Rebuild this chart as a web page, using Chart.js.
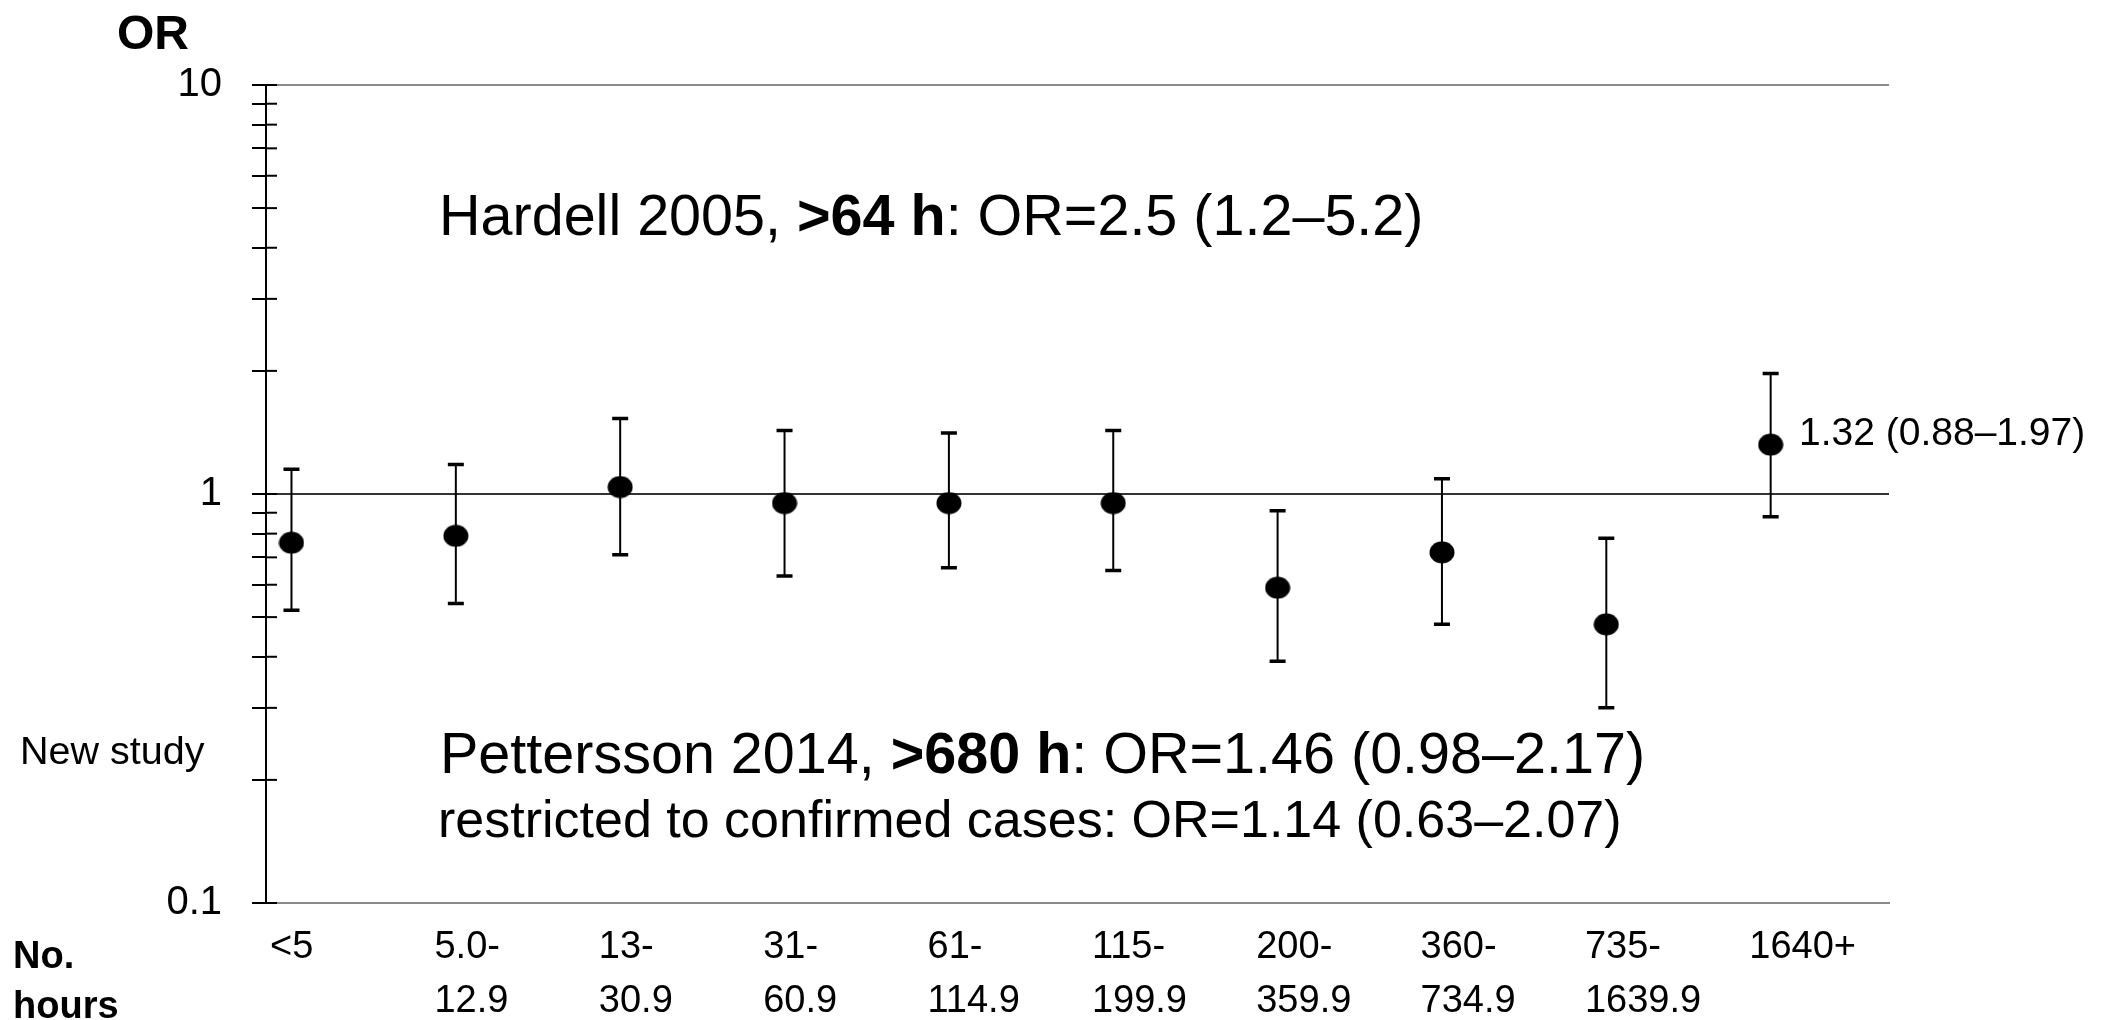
<!DOCTYPE html>
<html lang="en">
<head>
  <meta charset="UTF-8" />
  <title>OR by number of hours</title>
  <script src="https://cdn.jsdelivr.net/npm/chart.js"></script>
  <style>
    body { margin: 0; background: #fff; }
    #wrap { width: 2109px; height: 1020px; }
  </style>
</head>
<body>
  <div id="wrap"><canvas id="orChart"></canvas></div>

  <script>
    // categories (No. hours)
    const hourGroups = [
      ["<5"], ["5.0-", "12.9"], ["13-", "30.9"], ["31-", "60.9"], ["61-", "114.9"],
      ["115-", "199.9"], ["200-", "359.9"], ["360-", "734.9"], ["735-", "1639.9"], ["1640+"]
    ];
    // odds ratios and 95% CI
    const oddsRatio = [0.76, 0.79, 1.04, 0.95, 0.95, 0.95, 0.59, 0.72, 0.48, 1.32];
    const ciLower   = [0.52, 0.54, 0.71, 0.63, 0.66, 0.65, 0.39, 0.48, 0.30, 0.88];
    const ciUpper   = [1.15, 1.18, 1.53, 1.43, 1.41, 1.43, 0.91, 1.09, 0.78, 1.97];
    // y axis: decades and the minor steps inside each decade
    const decades = [0.1, 1];
    const minorSteps = [1, 2, 3, 4, 5, 6, 7, 8, 9];
    const yTickValues = [0.1, 1, 10];
    const yTickLabels = ["0.1", "1", "10"];

    const FONT = '"Liberation Sans", Arial, Helvetica, sans-serif';

    // filled ellipse used as the point marker (slightly wider than tall, like the original)
    const dot = document.createElement("canvas");
    dot.width = 26; dot.height = 23;
    (function () {
      const c = dot.getContext("2d");
      c.fillStyle = "#000";
      c.beginPath();
      c.ellipse(13, 11.5, 12.5, 11, 0, 0, Math.PI * 2);
      c.fill();
    })();

    function isLabelled(v) {
      return yTickValues.findIndex(t => Math.abs(t - v) < 1e-9);
    }

    // error bars with caps
    const errorBars = {
      id: "errorBars",
      beforeDatasetsDraw(chart) {
        const { ctx, scales: { x, y } } = chart;
        ctx.save();
        ctx.strokeStyle = "#000";
        oddsRatio.forEach((v, i) => {
          const px = x.getPixelForValue(i);
          const top = y.getPixelForValue(ciUpper[i]);
          const bot = y.getPixelForValue(ciLower[i]);
          ctx.lineWidth = 2;
          ctx.beginPath();
          ctx.moveTo(px, top); ctx.lineTo(px, bot);
          ctx.stroke();
          ctx.lineWidth = 3.5;
          ctx.beginPath();
          ctx.moveTo(px - 8, top); ctx.lineTo(px + 8, top);
          ctx.moveTo(px - 8, bot); ctx.lineTo(px + 8, bot);
          ctx.stroke();
        });
        ctx.restore();
      }
    };

    // y ticks cross the axis: draw the inner half
    const innerTicks = {
      id: "innerTicks",
      afterDraw(chart) {
        const { ctx, chartArea, scales: { y } } = chart;
        ctx.save();
        ctx.strokeStyle = "#000";
        ctx.lineWidth = 2;
        y.ticks.forEach(t => {
          const py = y.getPixelForValue(t.value);
          ctx.beginPath();
          ctx.moveTo(chartArea.left, py);
          ctx.lineTo(chartArea.left + 11, py);
          ctx.stroke();
        });
        ctx.restore();
      }
    };

    function richText(ctx, parts, x, y, size) {
      let cx = x;
      parts.forEach(([txt, bold]) => {
        ctx.font = (bold ? "bold " : "") + size + "px " + FONT;
        ctx.fillText(txt, cx, y);
        cx += ctx.measureText(txt).width;
      });
    }

    // free text on the figure
    const notes = {
      id: "notes",
      afterDraw(chart) {
        const ctx = chart.ctx;
        ctx.save();
        ctx.fillStyle = "#000";
        ctx.textBaseline = "alphabetic";
        ctx.textAlign = "left";
        richText(ctx, [["OR", true]], 117, 49, 48);
        richText(ctx, [["Hardell 2005, ", false], [">64 h", true], [": OR=2.5 (1.2\u20135.2)", false]], 439, 235, 57.5);
        richText(ctx, [["Pettersson 2014, ", false], [">680 h", true], [": OR=1.46 (0.98\u20132.17)", false]], 440, 773, 57.5);
        richText(ctx, [["restricted to confirmed cases: OR=1.14 (0.63\u20132.07)", false]], 438, 837, 52);
        richText(ctx, [["1.32 (0.88\u20131.97)", false]], 1799, 445, 39);
        richText(ctx, [["New study", false]], 20, 764, 39.5);
        richText(ctx, [["No.", true]], 13, 968, 38);
        richText(ctx, [["hours", true]], 13, 1018, 38);
        ctx.restore();
      }
    };

    new Chart(document.getElementById("orChart"), {
      type: "scatter",
      data: {
        datasets: [{
          data: oddsRatio.map((v, i) => ({ x: i, y: v })),
          pointStyle: dot,
          pointRadius: 12,
          showLine: false
        }]
      },
      options: {
        responsive: true,
        maintainAspectRatio: false,
        animation: false,
        events: [],
        layout: { padding: { top: 85, right: 220, bottom: 0, left: 0 } },
        plugins: { legend: { display: false }, tooltip: { enabled: false } },
        scales: {
          x: {
            type: "linear",
            min: -0.155,
            max: 9.72,
            afterBuildTicks(scale) {
              scale.ticks = hourGroups.map((g, i) => ({ value: i - 0.13 }));
            },
            afterFit(scale) { scale.height = 117; },
            grid: { display: false, drawTicks: false },
            border: { display: true, color: "#8a8a8a", width: 2 },
            ticks: {
              autoSkip: false,
              maxRotation: 0,
              align: "start",
              padding: 18,
              color: "#000",
              font: { family: FONT, size: 38, lineHeight: 1.42 },
              callback: (v, i) => hourGroups[i]
            }
          },
          y: {
            type: "logarithmic",
            min: 0.1,
            max: 10,
            afterBuildTicks(scale) {
              const t = [];
              decades.forEach(d => minorSteps.forEach(s => t.push({ value: +(d * s).toPrecision(6) })));
              t.push({ value: 10 });
              scale.ticks = t;
            },
            afterFit(scale) { scale.width = 266; },
            border: { display: true, color: "#000", width: 2 },
            grid: {
              lineWidth: 2,
              drawTicks: true,
              tickLength: 14,
              tickWidth: 2,
              tickColor: "#000",
              color: ctx => {
                const v = ctx.tick ? ctx.tick.value : null;
                if (v === null || isLabelled(v) < 0) return "rgba(0,0,0,0)";
                return Math.abs(v - 1) < 1e-9 ? "#333" : "#8a8a8a";
              }
            },
            ticks: {
              autoSkip: false,
              padding: 30,
              color: "#000",
              font: { family: FONT, size: 40 },
              callback: v => {
                const k = isLabelled(v);
                return k < 0 ? "" : yTickLabels[k];
              }
            }
          }
        }
      },
      plugins: [errorBars, innerTicks, notes]
    });
  </script>
</body>
</html>
